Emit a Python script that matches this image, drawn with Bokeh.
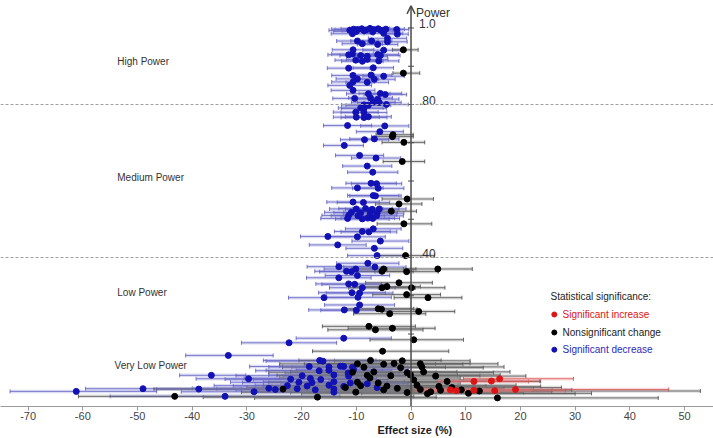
from bokeh.plotting import figure
from bokeh.models import (ColumnDataSource, Whisker, TeeHead, Span, Arrow, OpenHead,
                          FixedTicker, Range1d, Title)
from bokeh.embed import file_html
from bokeh.resources import INLINE
from bokeh.core.properties import value

FONT = "Liberation Sans"

# ---------------- data ----------------
x_ticks = [-70, -60, -50, -40, -30, -20, -10, 0, 10, 20, 30, 40, 50]
x_tick_labels = ["-70", "-60", "-50", "-40", "-30", "-20", "-10", "0", "10", "20", "30", "40", "50"]
power_ticks = [0.1, 0.2, 0.3, 0.4, 0.5, 0.6, 0.7, 0.8, 0.9, 1.0]
power_label_values = [1.0, 0.8, 0.4]
power_labels = ["1.0", ".80", ".40"]
threshold_values = [0.8, 0.4]
zone_names = ["High Power", "Medium Power", "Low Power", "Very Low Power"]
legend_title = "Statistical significance:"
legend_labels = ["Significant increase", "Nonsignificant change", "Significant decrease"]

# significant decrease (blue)
dec_effect = [-10.5, -9.8, -9.0, -8.2, -7.5, -6.8, -6.0, -5.5, -4.6, -2.6, -10.0, -8.6, -7.0, -11.2,
              -10.7, -5.0, -2.5, -4.3, -9.8, -7.2, -4.3, -8.9, -6.1, -10.6, -5.0, -11.4, -10.7, -9.2,
              -8.0, -6.1, -5.6, -10.1, -8.9, -8.0, -5.9, -11.4, -6.9, -10.6, -7.3, -5.0, -9.8, -6.7,
              -10.6, -8.0, -11.2, -10.6, -7.8, -5.6, -4.7, -10.3, -7.4, -6.1, -6.9, -5.8, -8.6, -7.8,
              -4.5, -9.2, -8.6, -10.1, -8.6, -10.0, -8.6, -7.8, -11.6, -4.8, -5.7, -8.5, -6.7, -12.2,
              -9.4, -6.4, -8.0, -7.0, -7.3, -6.3, -9.8, -6.0, -6.9, -6.5, -10.6, -8.7, -10.0, -8.3,
              -7.1, -5.8, -10.9, -9.2, -7.4, -6.2, -11.4, -9.7, -7.5, -6.3, -11.6, -8.9, -7.9, -7.0,
              -8.9, -7.7, -6.9, -15.2, -9.8, -5.6, -13.4, -6.7, -6.2,
              -7.9, -13.2, -6.6, -10.1, -11.8, -10.9, -9.8, -13.2, -11.4, -10.3, -8.9, -10.8, -9.4,
              -15.9, -9.7, -9.4, -12.2, -10.0, -12.3, -22.3, -33.4,
              -16.7, -16.1, -18.6, -15.0, -12.9, -10.7, -15.0, -16.8, -11.5, -36.5, -19.9, -14.1, -11.4,
              -29.7, -22.0, -18.4, -16.5, -20.5, -18.1, -14.1, -11.1, -22.6, -19.0, -15.0, -12.3,
              -49.0, -38.8, -26.0, -24.8, -20.8, -17.5, -14.1, -61.2, -28.7, -14.1, -34.0, -12.3,
              -10.5, -6.2, -8.0]
dec_power = [.997, .996, .998, .995, .999, .996, .998, .994, .997, .996, .991, .993, .990, .994,
             .985, .986, .984, .973, .966, .966, .964, .959, .957, .943, .942, .930, .932, .928,
             .926, .931, .928, .916, .913, .918, .914, .895, .896, .876, .877, .874, .867, .866,
             .859, .858, .850, .837, .828, .829, .826, .816, .817, .814, .806, .805, .799, .798,
             .800, .791, .790, .780, .779, .767, .766, .768, .745, .744, .729, .708, .710, .693,
             .667, .660, .639, .623, .594, .593, .582, .581, .562, .561, .545, .544, .527, .528,
             .526, .527, .518, .517, .518, .516, .510, .509, .511, .509, .502, .501, .503, .502,
             .468, .467, .475, .455, .454, .443, .433, .424, .405,
             .385, .376, .375, .370, .364, .363, .353, .347, .331, .330, .321, .308, .307,
             .295, .296, .276, .263, .262, .189, .177, .144,
             .131, .129, .115, .114, .116, .113, .105, .104, .098, .092, .091, .093, .090,
             .083, .082, .084, .081, .074, .073, .075, .072, .065, .064, .066, .063,
             .057, .056, .058, .055, .057, .054, .056, .050, .049, .048, .037, .115,
             .107, .060, .070]
dec_lo = [-14.5, -13.9, -12.8, -12.0, -11.2, -10.5, -9.8, -9.0, -8.2, -5.8, -14.2, -12.6, -10.8, -15.0,
          -14.6, -8.6, -4.6, -7.8, -13.6, -11.0, -7.9, -12.6, -9.8, -14.4, -8.8, -15.2, -14.5, -13.0,
          -11.7, -9.9, -9.2, -13.9, -12.7, -11.8, -9.6, -15.3, -10.6, -14.5, -11.1, -8.8, -13.7, -10.5,
          -14.5, -11.9, -15.2, -14.6, -11.8, -9.5, -8.6, -14.3, -11.4, -10.0, -10.9, -9.8, -12.7, -11.9,
          -8.5, -13.3, -12.7, -14.2, -12.8, -14.2, -12.8, -12.0, -16.0, -9.2, -10.0, -12.9, -11.2, -16.0,
          -13.8, -10.9, -12.5, -11.6, -11.9, -10.9, -14.5, -10.7, -11.6, -11.2, -15.4, -13.5, -14.9, -13.2,
          -12.0, -10.7, -15.8, -14.1, -12.3, -11.1, -16.3, -14.6, -12.4, -11.2, -16.5, -13.8, -12.8, -11.9,
          -14.0, -12.8, -12.0, -20.2, -14.9, -10.8, -18.6, -11.9, -11.6,
          -13.6, -19.0, -12.3, -15.9, -17.6, -16.7, -15.7, -19.1, -17.4, -16.3, -14.9, -16.9, -15.5,
          -22.4, -15.8, -15.8, -18.7, -16.5, -21.0, -31.0, -41.2,
          -27.0, -26.5, -29.5, -26.0, -24.0, -21.8, -26.5, -28.4, -23.0, -42.3, -32.0, -26.0, -23.4,
          -39.3, -34.0, -30.5, -28.8, -33.0, -30.8, -27.0, -23.8, -36.0, -32.5, -28.5, -25.4,
          -59.5, -46.5, -40.0, -39.0, -35.5, -32.0, -28.5, -73.3, -42.0, -29.0, -55.0, -23.5,
          -21.0, -11.5, -15.5]
dec_hi = [-6.8, -5.9, -5.2, -4.5, -3.9, -3.2, -2.4, -2.0, -1.2, -0.4, -5.9, -4.8, -3.3, -7.5,
          -6.9, -1.5, -0.5, -0.8, -6.0, -3.5, -0.7, -5.2, -2.4, -6.8, -1.2, -7.6, -6.9, -5.4,
          -4.3, -2.3, -2.0, -6.3, -5.1, -4.2, -2.2, -7.5, -3.2, -6.7, -3.5, -1.2, -5.9, -2.9,
          -6.7, -4.1, -7.2, -6.6, -3.8, -1.7, -0.8, -6.3, -3.4, -2.2, -2.9, -1.8, -4.5, -3.7,
          -0.5, -5.1, -4.5, -6.0, -4.4, -5.8, -4.4, -3.6, -7.2, -0.4, -1.4, -4.1, -2.2, -8.7,
          -5.0, -1.9, -3.5, -2.4, -2.7, -1.7, -5.1, -1.3, -2.2, -1.8, -5.8, -3.9, -5.1, -3.4,
          -2.2, -0.9, -6.0, -4.3, -2.5, -1.3, -6.5, -4.8, -2.6, -1.4, -6.7, -4.0, -3.0, -2.1,
          -3.8, -2.6, -1.8, -10.3, -4.7, -0.4, -8.2, -1.5, -0.8,
          -2.2, -7.4, -0.9, -4.3, -6.0, -5.1, -3.9, -7.3, -5.4, -4.3, -2.9, -4.7, -3.3,
          -9.4, -3.6, -3.0, -5.7, -3.5, -3.6, -13.6, -25.2,
          -6.4, -5.7, -7.7, -4.0, -1.8, -0.6, -3.5, -5.2, -0.5, -30.2, -7.8, -2.2, -0.6,
          -20.5, -10.0, -6.3, -4.2, -8.0, -5.4, -1.2, -0.4, -9.2, -5.5, -1.5, -0.8,
          -38.5, -31.0, -12.0, -10.6, -6.1, -3.0, -0.5, -46.5, -15.4, -0.8, -13.0, -1.1,
          -0.5, -0.9, -0.6]

# nonsignificant change (black)
ns_effect = [-1.4, -1.4, -3.3, -3.4, -1.3, -1.6, -0.7, -2.2, -3.6, -1.3, -1.0,
             -5.0, 4.9, -5.3, -0.8, -2.2, -4.4, -5.3, 0.1, -0.8, 3.1, -6.0, -5.4, 1.4, -3.9, -7.7,
             -3.4, -6.5, 0.5, -5.2,
             -7.4, -1.6, -9.8, -5.0, -3.1, 1.7, -8.6, -1.9, 2.0, -10.7, -6.8, -0.7, 2.3, -8.0, -3.7,
             -0.1, 4.5, 6.6, -9.2, -4.4, 1.1, 5.1, 9.2, 5.4, 1.7, -5.0, -10.1, -0.7, 3.6, -23.4, -9.8,
             -43.2, -17.1, 15.8, -7.5, -12.0, 0.5, 3.0, 10.5, -2.5, 7.5, -6.0, 12.5]
ns_power = [.943, .882, .721, .716, .701, .651, .553, .540, .521, .488, .405,
            .370, .370, .364, .363, .334, .324, .321, .321, .303, .295, .266, .265, .259, .253, .220,
            .215, .211, .185, .155,
            .131, .130, .122, .121, .123, .122, .113, .112, .114, .100, .101, .099, .101, .092, .091,
            .093, .090, .076, .065, .064, .066, .063, .054, .053, .055, .054, .048, .047, .049, .056,
            .074, .037, .035, .033, .085, .060, .080, .044, .045, .058, .060, .072, .051]
ns_lo = [-3.4, -3.3, -6.4, -7.2, -5.3, -5.1, -5.3, -6.5, -8.2, -6.2, -6.3,
         -10.8, -1.4, -11.0, -6.6, -8.3, -10.5, -11.4, -6.0, -7.0, -3.1, -12.5, -11.9, -5.2, -10.5,
         -16.2, -11.5, -15.2, -7.5, -18.0,
         -20.5, -14.0, -24.0, -19.5, -17.0, -12.5, -23.5, -17.0, -13.0, -26.0, -22.0, -16.5, -13.5,
         -24.5, -20.0, -16.5, -12.0, -10.5, -27.0, -22.5, -17.0, -13.5, -11.0, -15.0, -19.0, -26.0,
         -31.0, -22.0, -18.5, -47.0, -26.0, -60.8, -38.0, -28.6, -24.0, -30.0, -15.0, -20.0, -9.0,
         -22.0, -12.0, -21.0, -28.0]
ns_hi = [1.3, 1.6, 0.4, 0.4, 2.5, 2.5, 4.1, 2.0, 1.0, 3.8, 4.3,
         0.9, 11.2, 0.4, 5.0, 3.9, 1.7, 0.8, 6.2, 5.4, 9.3, 0.5, 1.1, 8.0, 2.7, 0.8, 4.4, 2.2, 9.6, 6.9,
         5.5, 10.8, 4.5, 9.5, 10.8, 15.9, 6.3, 13.2, 17.0, 4.6, 8.4, 15.1, 18.1, 8.5, 12.6, 16.3,
         21.0, 23.7, 8.6, 13.7, 19.2, 23.7, 29.4, 25.8, 22.4, 16.0, 10.8, 20.6, 25.7, 0.2, 6.4, 0.5,
         4.6, 45.2, 9.0, 6.0, 16.0, 30.0, 33.0, 17.0, 27.5, 9.0, 52.9]

# significant increase (red)
inc_effect = [16.2, 11.5, 14.7, 19.1, 7.2, 8.3, 11.5, 15.3]
inc_power = [.083, .076, .077, .055, .054, .052, .053, .052]
inc_lo = [9.6, 4.8, 5.5, 1.0, 0.5, 0.8, 1.5, 2.5]
inc_hi = [29.7, 21.5, 23.5, 47.1, 14.0, 16.0, 22.0, 28.2]

# ---------------- styling ----------------
BLUE_DOT, BLUE_LINE, BLUE_BAND = "#1212b4", "#4646b0", "#7c7cd8"
BLACK_DOT, BLACK_LINE, BLACK_BAND = "#000000", "#2a2a2a", "#808080"
RED_DOT, RED_LINE, RED_BAND = "#dd1414", "#cc2a2a", "#f07a7a"

p = figure(width=713, height=438, output_backend="svg", toolbar_location=None,
           x_range=Range1d(-75.05, 55.30), y_range=Range1d(0.0105, 1.0719),
           y_axis_location=None, min_border_left=0, min_border_right=0,
           min_border_top=0, min_border_bottom=32)
p.outline_line_color = None
p.xgrid.visible = False
p.ygrid.visible = False
p.background_fill_color = "white"
p.border_fill_color = "white"

ax = p.xaxis[0]
ax.ticker = FixedTicker(ticks=x_ticks)
ax.major_label_overrides = {t: lab for t, lab in zip(x_ticks, x_tick_labels)}
ax.axis_line_color = "#9a9a9a"
ax.major_tick_line_color = "#9a9a9a"
ax.major_tick_out = 4
ax.major_tick_in = 0
ax.minor_tick_out = 0
ax.minor_tick_in = 0
ax.major_label_standoff = 1
ax.major_label_text_font = FONT
ax.major_label_text_font_size = "11px"
ax.major_label_text_color = "#444444"

# axis title, placed off-centre (right of the frame centre) as in the original
p.add_layout(Title(text="Effect size (%)", align="left", offset=377, standoff=0,
                   text_font=FONT, text_font_size="11px", text_font_style="bold",
                   text_color="#222222", vertical_align="middle"), "below")

for t in threshold_values:
    p.add_layout(Span(location=t, dimension="width", line_color="#a0a0a0",
                      line_dash="3 2", line_width=1))

groups = [
    (dec_effect, dec_power, dec_lo, dec_hi, BLUE_DOT, BLUE_LINE, BLUE_BAND),
    (ns_effect, ns_power, ns_lo, ns_hi, BLACK_DOT, BLACK_LINE, BLACK_BAND),
    (inc_effect, inc_power, inc_lo, inc_hi, RED_DOT, RED_LINE, RED_BAND),
]
sources = []
for eff, pw, lo, hi, dc, lc, bc in groups:
    src = ColumnDataSource(dict(effect=eff, power=pw, lo=lo, hi=hi))
    sources.append(src)

# translucent bands
for src, g in zip(sources, groups):
    p.segment(x0="lo", y0="power", x1="hi", y1="power", source=src,
              line_color=g[6], line_width=3.5, line_alpha=0.25)

# whiskers
for src, g in zip(sources, groups):
    w = Whisker(source=src, base="power", lower="lo", upper="hi", dimension="width",
                line_color=g[5], line_width=0.9, line_alpha=0.8,
                upper_head=TeeHead(size=4, line_color=g[5], line_width=0.9, line_alpha=0.8),
                lower_head=TeeHead(size=4, line_color=g[5], line_width=0.9, line_alpha=0.8))
    p.add_layout(w)

# vertical power axis
p.add_layout(Arrow(end=OpenHead(size=8, line_width=1.5, line_color="#4a4a4a"),
                   x_start=0, y_start=0.0105, x_end=0, y_end=1.058,
                   line_color="#4a4a4a", line_width=1.5))
p.scatter(x=[0] * len(power_ticks), y=power_ticks, marker="dash", size=6,
          line_color="#4a4a4a", line_width=1)
p.text(x=[0] * len(power_labels), y=power_label_values, text=power_labels,
       x_offset=8, text_baseline="bottom", text_align="left",
       text_font=value(FONT), text_font_size="12px", text_color="#333333")
p.text(x=[0], y=[1.0405], text=["Power"], x_offset=5, text_baseline="middle",
       text_align="left", text_font=value(FONT), text_font_size="12px", text_color="#333333")

# points
for src, g in zip(sources, groups):
    p.scatter(x="effect", y="power", source=src, size=6, fill_color=g[4], line_color=g[4])

# zone labels
p.text(x=[-53.7, -53.7, -53.7, -54.2], y=[0.912, 0.609, 0.308, 0.118], text=zone_names,
       text_baseline="middle", text_align="left", text_font=value(FONT),
       text_font_size="10px", text_color="#333333")

# legend
p.text(x=[25.5], y=[0.298], text=[legend_title], text_baseline="middle", text_align="left",
       text_font=value(FONT), text_font_size="10px", text_color="#222222")
p.scatter(x=[26.2, 26.2, 26.2], y=[0.251, 0.204, 0.159], size=5,
          fill_color=[RED_DOT, BLACK_DOT, BLUE_DOT], line_color=[RED_DOT, BLACK_DOT, BLUE_DOT])
p.text(x=[27.7, 27.7, 27.7], y=[0.251, 0.204, 0.159], text=legend_labels,
       text_baseline="middle", text_align="left", text_font=value(FONT), text_font_size="10px",
       text_color=[RED_DOT, "#222222", "#2a2ab8"])

open("out.html", "w").write(file_html(p, INLINE))
